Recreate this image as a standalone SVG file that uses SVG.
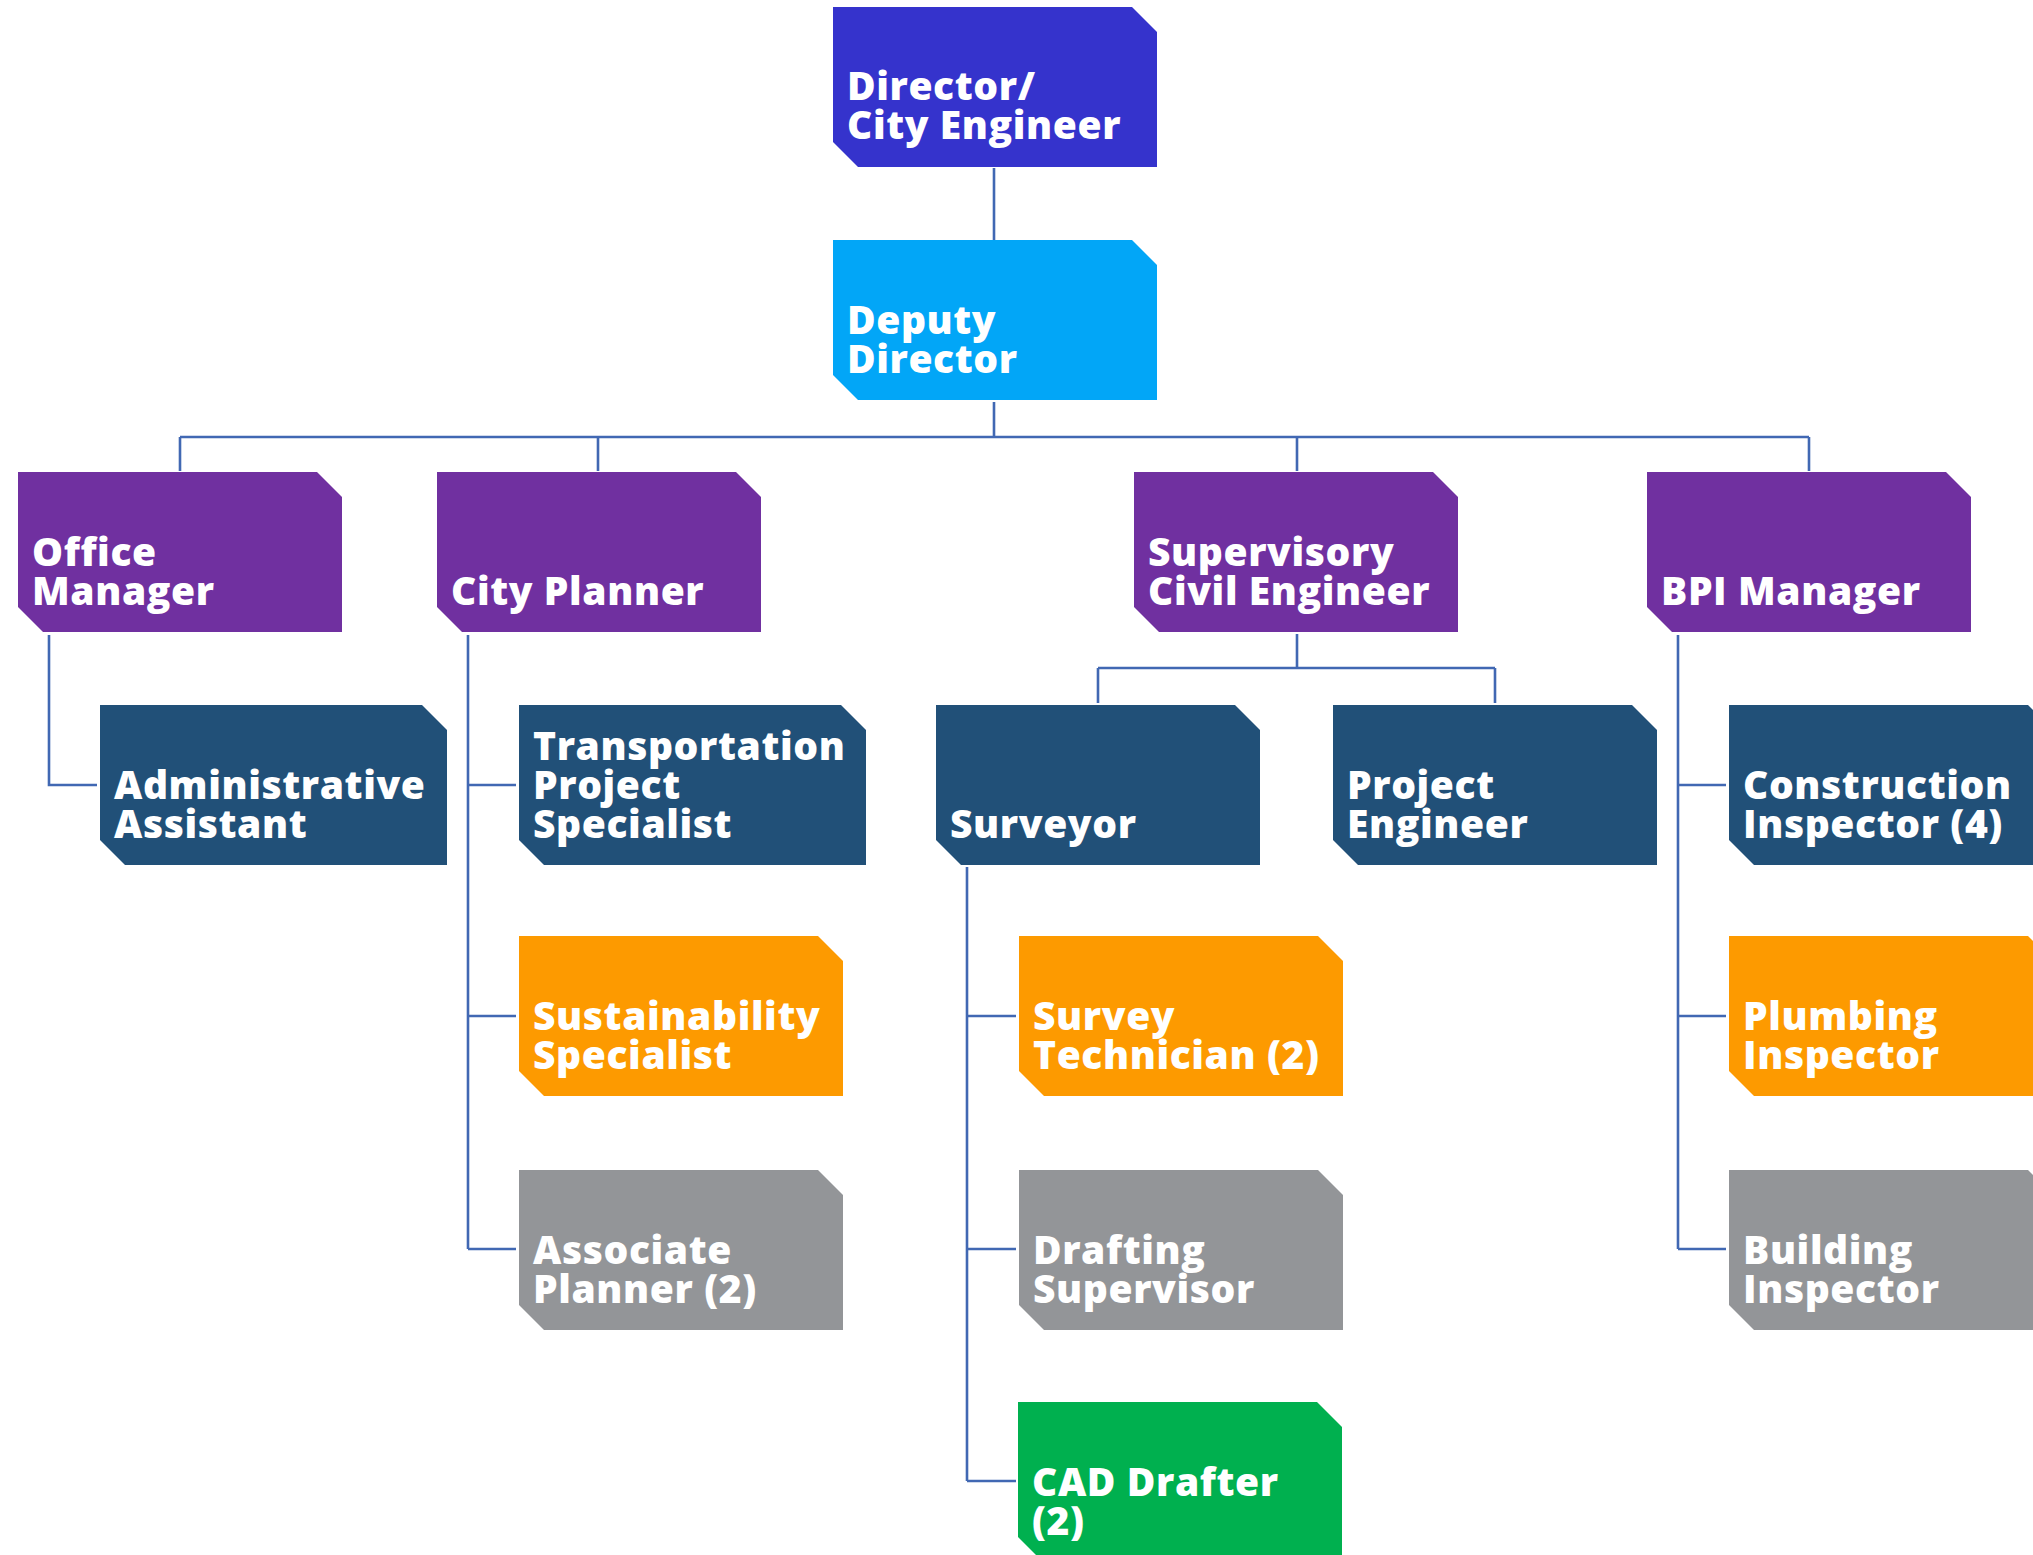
<svg xmlns="http://www.w3.org/2000/svg" width="2033" height="1555" viewBox="0 0 2033 1555">
<style>
.t{font-family:"Open Sans","Liberation Sans",sans-serif;font-weight:800;font-size:39px;letter-spacing:0.6px;fill:#fff}
.c{fill:none;stroke:#4168B3;stroke-width:2.6}
.dir{fill:#3533CC}.dep{fill:#02A6F7}.pur{fill:#7030A0}.nav{fill:#215078}.org{fill:#FD9A00}.gry{fill:#939598}.grn{fill:#00B04F}
</style>
<defs>
<path id="n324" d="M0,0H299L324,25V160H25L0,135Z"/>
<path id="n347" d="M0,0H322L347,25V160H25L0,135Z"/>
</defs>
<g id="connectors">
<path class="c" d="M994,168V240"/>
<path class="c" d="M994,402V437M180,437H1809M180,437V471M598,437V471M1297,437V471M1809,437V471"/>
<path class="c" d="M49,635V785H97"/>
<path class="c" d="M468,635V1249M468,785H516M468,1016H516M468,1249H516"/>
<path class="c" d="M1297,634V668M1098,668H1495M1098,668V703M1495,668V703"/>
<path class="c" d="M967,867V1481M967,1016H1016M967,1249H1016M967,1481H1016"/>
<path class="c" d="M1678,635V1249M1678,785H1726M1678,1016H1726M1678,1249H1726"/>
</g>
<g id="director"><use href="#n324" class="dir" x="833" y="7"/><text class="t" x="847" y="100">Director/</text><text class="t" x="847" y="139">City Engineer</text></g>
<g id="deputy"><use href="#n324" class="dep" x="833" y="240"/><text class="t" x="847" y="334">Deputy</text><text class="t" x="847" y="373">Director</text></g>
<g id="office-manager"><use href="#n324" class="pur" x="18" y="472"/><text class="t" x="32" y="566">Office</text><text class="t" x="32" y="605">Manager</text></g>
<g id="city-planner"><use href="#n324" class="pur" x="437" y="472"/><text class="t" x="451" y="605">City Planner</text></g>
<g id="supervisory"><use href="#n324" class="pur" x="1134" y="472"/><text class="t" x="1148" y="566">Supervisory</text><text class="t" x="1148" y="605">Civil Engineer</text></g>
<g id="bpi"><use href="#n324" class="pur" x="1647" y="472"/><text class="t" x="1661" y="605">BPI Manager</text></g>
<g id="admin"><use href="#n347" class="nav" x="100" y="705"/><text class="t" x="114" y="799">Administrative</text><text class="t" x="114" y="838">Assistant</text></g>
<g id="transportation"><use href="#n347" class="nav" x="519" y="705"/><text class="t" x="533" y="760">Transportation</text><text class="t" x="533" y="799">Project</text><text class="t" x="533" y="838">Specialist</text></g>
<g id="surveyor"><use href="#n324" class="nav" x="936" y="705"/><text class="t" x="950" y="838">Surveyor</text></g>
<g id="project-engineer"><use href="#n324" class="nav" x="1333" y="705"/><text class="t" x="1347" y="799">Project</text><text class="t" x="1347" y="838">Engineer</text></g>
<g id="construction"><use href="#n324" class="nav" x="1729" y="705"/><text class="t" x="1743" y="799">Construction</text><text class="t" x="1743" y="838">Inspector (4)</text></g>
<g id="sustainability"><use href="#n324" class="org" x="519" y="936"/><text class="t" x="533" y="1030">Sustainability</text><text class="t" x="533" y="1069">Specialist</text></g>
<g id="survey-tech"><use href="#n324" class="org" x="1019" y="936"/><text class="t" x="1033" y="1030">Survey</text><text class="t" x="1033" y="1069">Technician (2)</text></g>
<g id="plumbing"><use href="#n324" class="org" x="1729" y="936"/><text class="t" x="1743" y="1030">Plumbing</text><text class="t" x="1743" y="1069">Inspector</text></g>
<g id="associate"><use href="#n324" class="gry" x="519" y="1170"/><text class="t" x="533" y="1264">Associate</text><text class="t" x="533" y="1303">Planner (2)</text></g>
<g id="drafting"><use href="#n324" class="gry" x="1019" y="1170"/><text class="t" x="1033" y="1264">Drafting</text><text class="t" x="1033" y="1303">Supervisor</text></g>
<g id="building"><use href="#n324" class="gry" x="1729" y="1170"/><text class="t" x="1743" y="1264">Building</text><text class="t" x="1743" y="1303">Inspector</text></g>
<g id="cad"><use href="#n324" class="grn" x="1018" y="1402"/><text class="t" x="1032" y="1496">CAD Drafter</text><text class="t" x="1032" y="1535">(2)</text></g>
</svg>
